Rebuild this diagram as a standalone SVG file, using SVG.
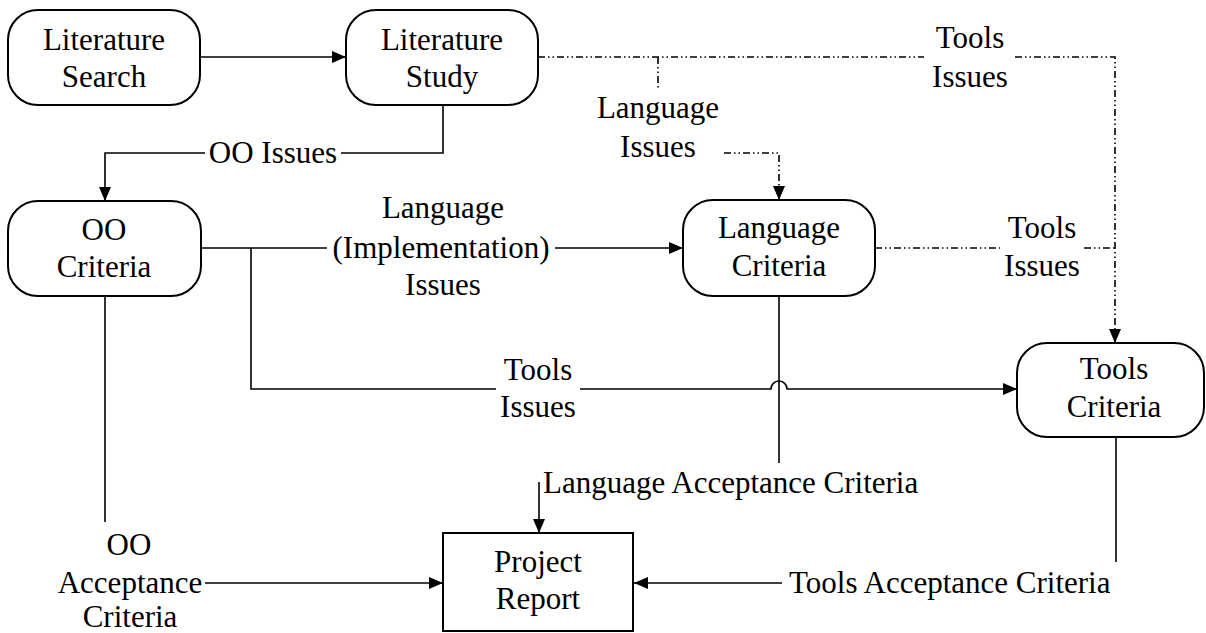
<svg xmlns="http://www.w3.org/2000/svg" width="1206" height="633" viewBox="0 0 1206 633">
<style>
.box{fill:#fff;stroke:#000;stroke-width:2}
.t{font-family:"Liberation Serif","Times New Roman",serif;font-size:31px;fill:#000;text-anchor:middle}
.ts{font-family:"Liberation Serif","Times New Roman",serif;font-size:31px;fill:#000}
.c{fill:none;stroke:#000;stroke-width:1.6}
.d{fill:none;stroke:#000;stroke-width:1.6;stroke-dasharray:7 3 1.5 3 1.5 3}
</style>
<defs>
<marker id="ah" markerUnits="userSpaceOnUse" markerWidth="14" markerHeight="12" viewBox="0 0 14 12" refX="14" refY="6" orient="auto">
<path d="M0,0 L14,6 L0,12 Z" fill="#000"/>
</marker>
</defs>
<rect width="1206" height="633" fill="#fff"/>
<g id="connectors">
<path class="c" d="M200,57 L346,57" marker-end="url(#ah)"/>
<path class="c" d="M443,105 L443,153 L341,153"/>
<path class="c" d="M205,153 L105,153 L105,201" marker-end="url(#ah)"/>
<path class="c" d="M201,248 L327,248"/>
<path class="c" d="M555,248 L683,248" marker-end="url(#ah)"/>
<path class="c" d="M251,248 L251,389 L496,389"/>
<path class="c" d="M580,389 L771,389 A8,8 0 0 1 787,389 L1017,389" marker-end="url(#ah)"/>
<path class="c" d="M779,296 L779,463"/>
<path class="c" d="M539,482 L539,533" marker-end="url(#ah)"/>
<path class="c" d="M105,296 L105,522"/>
<path class="c" d="M205,583 L443,583" marker-end="url(#ah)"/>
<path class="c" d="M1116,437 L1116,562"/>
<path class="c" d="M782,583 L634,583" marker-end="url(#ah)"/>
<path class="d" d="M538,57 L924,57"/>
<path class="d" d="M1015,57 L1115,57 L1115,343" marker-end="url(#ah)"/>
<path class="d" d="M658,57 L658,89"/>
<path class="d" d="M724,153 L779,153 L779,200" marker-end="url(#ah)"/>
<path class="d" d="M875,248 L1000,248"/>
<path class="d" d="M1084,248 L1115,248"/>
</g>
<g id="labels">
<text class="t" x="273" y="163">OO Issues</text>
<text class="t" x="443" y="218">Language</text>
<text class="t" x="441" y="258">(Implementation)</text>
<text class="t" x="443" y="295">Issues</text>
<text class="t" x="970" y="48">Tools</text>
<text class="t" x="970" y="87">Issues</text>
<text class="t" x="658" y="118">Language</text>
<text class="t" x="658" y="157">Issues</text>
<text class="t" x="1042" y="238">Tools</text>
<text class="t" x="1042" y="276">Issues</text>
<text class="t" x="538" y="380">Tools</text>
<text class="t" x="538" y="417">Issues</text>
<text class="ts" x="543" y="493">Language Acceptance Criteria</text>
<text class="ts" x="789" y="593">Tools Acceptance Criteria</text>
<text class="t" x="129" y="555">OO</text>
<text class="t" x="130" y="593">Acceptance</text>
<text class="t" x="130" y="627">Criteria</text>
</g>
<g id="literature-search">
<rect class="box" x="8" y="10" width="192" height="95" rx="30"/>
<text class="t" x="104" y="50">Literature</text>
<text class="t" x="104" y="87">Search</text>
</g>
<g id="literature-study">
<rect class="box" x="346" y="10" width="192" height="95" rx="30"/>
<text class="t" x="442" y="50">Literature</text>
<text class="t" x="442" y="87">Study</text>
</g>
<g id="oo-criteria">
<rect class="box" x="8" y="201" width="193" height="95" rx="30"/>
<text class="t" x="104" y="240">OO</text>
<text class="t" x="104" y="277">Criteria</text>
</g>
<g id="language-criteria">
<rect class="box" x="683" y="200" width="192" height="96" rx="30"/>
<text class="t" x="779" y="238">Language</text>
<text class="t" x="779" y="276">Criteria</text>
</g>
<g id="tools-criteria">
<rect class="box" x="1017" y="343" width="187" height="94" rx="30"/>
<text class="t" x="1114" y="379">Tools</text>
<text class="t" x="1114" y="417">Criteria</text>
</g>
<g id="project-report">
<rect class="box" x="443" y="533" width="190" height="98"/>
<text class="t" x="538" y="572">Project</text>
<text class="t" x="538" y="609">Report</text>
</g>
</svg>
